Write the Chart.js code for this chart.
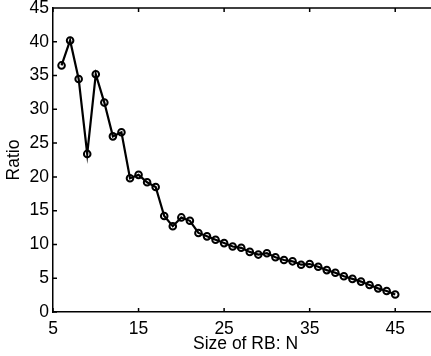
<!DOCTYPE html>
<html>
<head>
<meta charset="utf-8">
<script src="https://cdn.jsdelivr.net/npm/chart.js@4.4.0/dist/chart.umd.min.js"></script>
<style>
  html, body { margin: 0; padding: 0; background: #fff; overflow: hidden; }
  #wrap { width: 444px; height: 356px; position: relative; }
</style>
</head>
<body>
<div id="wrap"><canvas id="chart"></canvas></div>
<script>
// size of RB (N) and the measured ratio
const sizes = [6, 7, 8, 9, 10, 11, 12, 13, 14, 15, 16, 17, 18, 19, 20, 21, 22, 23, 24, 25,
  26, 27, 28, 29, 30, 31, 32, 33, 34, 35, 36, 37, 38, 39, 40, 41, 42, 43, 44, 45];
const ratio = [36.5, 40.2, 34.5, 23.4, 35.2, 31.0, 26.0, 26.6, 19.8, 20.3, 19.2, 18.5, 14.2, 12.7, 14.0, 13.5,
  11.7, 11.2, 10.7, 10.2, 9.7, 9.5, 8.9, 8.5, 8.7, 8.1, 7.7, 7.5, 7.0, 7.1,
  6.7, 6.2, 5.8, 5.3, 4.9, 4.5, 4.0, 3.5, 3.1, 2.6];
const xTicks = [5, 15, 25, 35, 45];
const yTicks = [0, 5, 10, 15, 20, 25, 30, 35, 40, 45];

const font = { family: "'Liberation Sans', Arial, Helvetica, sans-serif", size: 17.5 };

// matlab style box: ticks point inward, top edge drawn too
const innerTicks = {
  id: "innerTicks",
  afterDraw(chart) {
    const ctx = chart.ctx;
    const a = chart.chartArea;
    const xs = chart.scales.x, ys = chart.scales.y;
    const len = 4;
    ctx.save();
    ctx.strokeStyle = "#000";
    ctx.lineWidth = 1.5;
    ctx.beginPath();
    ctx.moveTo(a.left, a.top);
    ctx.lineTo(a.right + 5, a.top);
    xs.ticks.forEach(t => {
      const px = xs.getPixelForValue(t.value);
      ctx.moveTo(px, a.bottom);
      ctx.lineTo(px, a.bottom - len);
      ctx.moveTo(px, a.top);
      ctx.lineTo(px, a.top + len);
    });
    ys.ticks.forEach(t => {
      const py = ys.getPixelForValue(t.value);
      ctx.moveTo(a.left, py);
      ctx.lineTo(a.left + len, py);
    });
    ctx.stroke();
    ctx.restore();
  }
};

new Chart(document.getElementById("chart"), {
  type: "line",
  data: {
    datasets: [{
      data: sizes.map((s, i) => ({ x: s, y: ratio[i] })),
      borderColor: "#000",
      borderWidth: 2.2,
      backgroundColor: "transparent",
      pointRadius: 3.3,
      pointBorderWidth: 2,
      pointBorderColor: "#000",
      pointBackgroundColor: "transparent",
      tension: 0
    }]
  },
  options: {
    responsive: true,
    maintainAspectRatio: false,
    animation: false,
    layout: { padding: { top: 8, right: 6, left: 0, bottom: 0 } },
    plugins: { legend: { display: false }, tooltip: { enabled: false } },
    scales: {
      x: {
        type: "linear",
        min: 5,
        max: 50,
        afterBuildTicks: s => { s.ticks = xTicks.map(v => ({ value: v })); },
        afterFit: s => { s.height = 44; },
        grid: { display: false, drawTicks: false },
        border: { display: true, color: "#000", width: 1.5 },
        ticks: { color: "#000", font: font, padding: 7, maxRotation: 0 },
        title: { display: true, text: "Size of RB: N", color: "#000", font: font, padding: { top: 0, bottom: 1 } }
      },
      y: {
        min: 0,
        max: 45,
        afterBuildTicks: s => { s.ticks = yTicks.map(v => ({ value: v })); },
        afterFit: s => { s.width = 53; s.paddingTop = 0; s.paddingBottom = 0; },
        grid: { display: false, drawTicks: false },
        border: { display: true, color: "#000", width: 1.5 },
        ticks: { color: "#000", font: font, padding: 4 },
        title: { display: true, text: "Ratio", color: "#000", font: font, padding: { top: 4, bottom: 0 } }
      }
    }
  },
  plugins: [innerTicks]
});
</script>
</body>
</html>
